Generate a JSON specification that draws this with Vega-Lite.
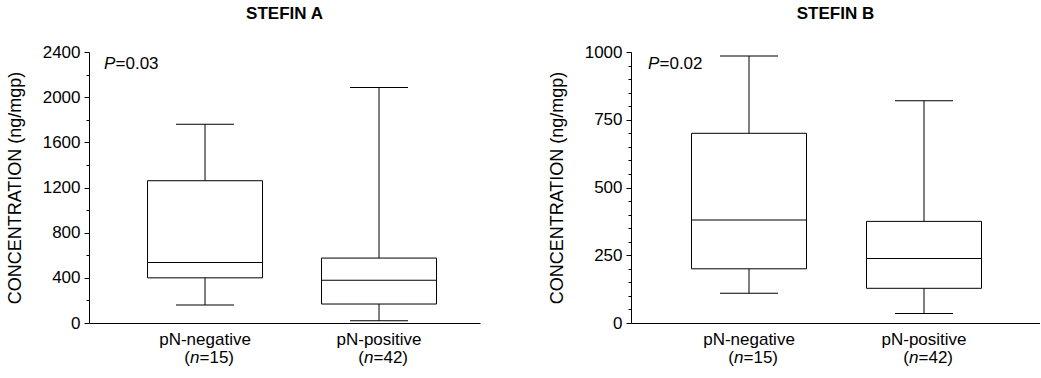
{
  "$schema": "https://vega.github.io/schema/vega-lite/v6.json",
  "padding": {"left": 6, "top": 5, "right": 0, "bottom": 0},
  "background": "white",
  "config": {
    "view": {"stroke": null},
    "font": "Liberation Sans",
    "title": {"fontSize": 17, "fontWeight": "bold", "color": "black", "anchor": "middle", "offset": 20},
    "axis": {"domainColor": "black", "tickColor": "black", "labelColor": "black", "titleColor": "black", "grid": false, "labelFont": "Liberation Sans", "titleFont": "Liberation Sans"},
    "concat": {"spacing": 68}
  },
  "datasets": {
    "stefinA": [
      {"group": "pN-negative", "n": 15, "min": 160, "q1": 400, "median": 535, "q3": 1260, "max": 1760},
      {"group": "pN-positive", "n": 42, "min": 20, "q1": 168, "median": 378, "q3": 575, "max": 2085}
    ],
    "stefinB": [
      {"group": "pN-negative", "n": 15, "min": 110, "q1": 200, "median": 380, "q3": 700, "max": 985},
      {"group": "pN-positive", "n": 42, "min": 35, "q1": 128, "median": 238, "q3": 375, "max": 820}
    ]
  },
  "hconcat": [
    {
      "title": "STEFIN A",
      "width": 391,
      "height": 271,
      "data": {"name": "stefinA"},
      "transform": [{"calculate": "'=' + datum.n + ')'", "as": "nrest"}],
      "encoding": {
        "x": {"field": "group", "type": "nominal", "sort": ["pN-negative", "pN-positive"],
          "scale": {"paddingInner": 0.3, "paddingOuter": 0.2736, "align": 0.579},
          "axis": {"title": null, "ticks": false, "labelAngle": 0, "labelFontSize": 17, "labelPadding": 8, "domainWidth": 1}}
      },
      "resolve": {"axis": {"y": "independent"}},
      "layer": [
        {
          "layer": [
            {"mark": {"type": "rule", "color": "black", "strokeWidth": 1},
             "encoding": {
               "y": {"field": "min", "type": "quantitative", "title": "CONCENTRATION (ng/mgp)",
                 "scale": {"domain": [0, 2400], "nice": false, "zero": true},
                 "axis": {"values": [0, 400, 800, 1200, 1600, 2000, 2400], "format": "d", "tickSize": 5,
                   "labelPadding": 4, "labelFontSize": 17, "titleFontSize": 18, "titleFontWeight": "normal", "titlePadding": 18}},
               "y2": {"field": "max"}}},
            {"mark": {"type": "bar", "size": 115, "fill": "white", "stroke": "black", "strokeWidth": 1},
             "encoding": {"y": {"field": "q1", "type": "quantitative", "title": "CONCENTRATION (ng/mgp)"}, "y2": {"field": "q3"}}},
            {"mark": {"type": "tick", "size": 115, "thickness": 1, "color": "black", "opacity": 1},
             "encoding": {"y": {"field": "median", "type": "quantitative", "title": "CONCENTRATION (ng/mgp)"}}},
            {"mark": {"type": "tick", "size": 58, "thickness": 1, "color": "black", "opacity": 1},
             "encoding": {"y": {"field": "max", "type": "quantitative", "title": "CONCENTRATION (ng/mgp)"}}},
            {"mark": {"type": "tick", "size": 58, "thickness": 1, "color": "black", "opacity": 1},
             "encoding": {"y": {"field": "min", "type": "quantitative", "title": "CONCENTRATION (ng/mgp)"}}},
            {"mark": {"type": "text", "align": "right", "baseline": "alphabetic", "dy": 40, "dx": -15, "fontSize": 17, "color": "black", "text": "("},
             "encoding": {"y": {"datum": 0, "type": "quantitative"}}},
            {"mark": {"type": "text", "align": "left", "baseline": "alphabetic", "dy": 40, "dx": -15, "fontSize": 17, "fontStyle": "italic", "color": "black", "text": "n"},
             "encoding": {"y": {"datum": 0, "type": "quantitative"}}},
            {"mark": {"type": "text", "align": "left", "baseline": "alphabetic", "dy": 40, "dx": -5.5, "fontSize": 17, "color": "black"},
             "encoding": {"y": {"datum": 0, "type": "quantitative"}, "text": {"field": "nrest"}}},
            {"data": {"values": [{"note": "=0.03"}]},
             "mark": {"type": "text", "align": "left", "baseline": "middle", "dx": -101, "fontSize": 17, "fontStyle": "italic", "color": "black", "text": "P"},
             "encoding": {"x": {"datum": "pN-negative", "type": "nominal"}, "y": {"datum": 2290, "type": "quantitative"}}},
            {"data": {"values": [{"note": "=0.03"}]},
             "mark": {"type": "text", "align": "left", "baseline": "middle", "dx": -89.5, "fontSize": 17, "color": "black"},
             "encoding": {"x": {"datum": "pN-negative", "type": "nominal"}, "y": {"datum": 2290, "type": "quantitative"}, "text": {"field": "note"}}}
          ]
        },
        {"mark": {"type": "tick", "opacity": 0},
         "encoding": {"y": {"field": "median", "type": "quantitative",
           "axis": {"orient": "left", "values": [200, 600, 1000, 1400, 1800, 2200], "labels": false, "domain": false, "tickSize": 3, "title": null}}}}
      ]
    },
    {
      "title": "STEFIN B",
      "width": 409,
      "height": 271,
      "data": {"name": "stefinB"},
      "transform": [{"calculate": "'=' + datum.n + ')'", "as": "nrest"}],
      "encoding": {
        "x": {"field": "group", "type": "nominal", "sort": ["pN-negative", "pN-positive"],
          "scale": {"paddingInner": 0.3, "paddingOuter": 0.3186, "align": 0.509},
          "axis": {"title": null, "ticks": false, "labelAngle": 0, "labelFontSize": 17, "labelPadding": 8, "domainWidth": 1}}
      },
      "resolve": {"axis": {"y": "independent"}},
      "layer": [
        {
          "layer": [
            {"mark": {"type": "rule", "color": "black", "strokeWidth": 1},
             "encoding": {
               "y": {"field": "min", "type": "quantitative", "title": "CONCENTRATION (ng/mgp)",
                 "scale": {"domain": [0, 1000], "nice": false, "zero": true},
                 "axis": {"values": [0, 250, 500, 750, 1000], "format": "d", "tickSize": 5,
                   "labelPadding": 4, "labelFontSize": 17, "titleFontSize": 18, "titleFontWeight": "normal", "titlePadding": 18}},
               "y2": {"field": "max"}}},
            {"mark": {"type": "bar", "size": 115, "fill": "white", "stroke": "black", "strokeWidth": 1},
             "encoding": {"y": {"field": "q1", "type": "quantitative", "title": "CONCENTRATION (ng/mgp)"}, "y2": {"field": "q3"}}},
            {"mark": {"type": "tick", "size": 115, "thickness": 1, "color": "black", "opacity": 1},
             "encoding": {"y": {"field": "median", "type": "quantitative", "title": "CONCENTRATION (ng/mgp)"}}},
            {"mark": {"type": "tick", "size": 58, "thickness": 1, "color": "black", "opacity": 1},
             "encoding": {"y": {"field": "max", "type": "quantitative", "title": "CONCENTRATION (ng/mgp)"}}},
            {"mark": {"type": "tick", "size": 58, "thickness": 1, "color": "black", "opacity": 1},
             "encoding": {"y": {"field": "min", "type": "quantitative", "title": "CONCENTRATION (ng/mgp)"}}},
            {"mark": {"type": "text", "align": "right", "baseline": "alphabetic", "dy": 40, "dx": -15, "fontSize": 17, "color": "black", "text": "("},
             "encoding": {"y": {"datum": 0, "type": "quantitative"}}},
            {"mark": {"type": "text", "align": "left", "baseline": "alphabetic", "dy": 40, "dx": -15, "fontSize": 17, "fontStyle": "italic", "color": "black", "text": "n"},
             "encoding": {"y": {"datum": 0, "type": "quantitative"}}},
            {"mark": {"type": "text", "align": "left", "baseline": "alphabetic", "dy": 40, "dx": -5.5, "fontSize": 17, "color": "black"},
             "encoding": {"y": {"datum": 0, "type": "quantitative"}, "text": {"field": "nrest"}}},
            {"data": {"values": [{"note": "=0.02"}]},
             "mark": {"type": "text", "align": "left", "baseline": "middle", "dx": -101, "fontSize": 17, "fontStyle": "italic", "color": "black", "text": "P"},
             "encoding": {"x": {"datum": "pN-negative", "type": "nominal"}, "y": {"datum": 955, "type": "quantitative"}}},
            {"data": {"values": [{"note": "=0.02"}]},
             "mark": {"type": "text", "align": "left", "baseline": "middle", "dx": -89.5, "fontSize": 17, "color": "black"},
             "encoding": {"x": {"datum": "pN-negative", "type": "nominal"}, "y": {"datum": 955, "type": "quantitative"}, "text": {"field": "note"}}}
          ]
        },
        {"mark": {"type": "tick", "opacity": 0},
         "encoding": {"y": {"field": "median", "type": "quantitative",
           "axis": {"orient": "left", "values": [50, 100, 150, 200, 300, 350, 400, 450, 550, 600, 650, 700, 800, 850, 900, 950], "labels": false, "domain": false, "tickSize": 3, "title": null}}}}
      ]
    }
  ]
}
